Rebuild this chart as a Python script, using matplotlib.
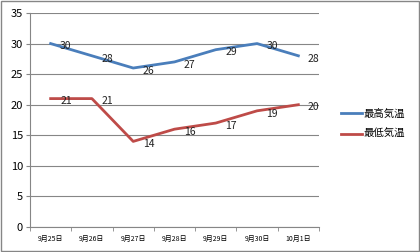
import matplotlib.pyplot as plt
import numpy as np

plt.rcParams['font.family'] = ['Noto Sans CJK JP', 'DejaVu Sans']

dates = ['9月25日', '9月26日', '9月27日', '9月28日', '9月29日', '9月30日', '10月1日']
high = [30, 28, 26, 27, 29, 30, 28]
low = [21, 21, 14, 16, 17, 19, 20]

fig = plt.figure(figsize=(4.2, 2.52), dpi=100)
ax = fig.add_axes([30 / 420, 1 - 227 / 252, 289 / 420, 214 / 252])

x = np.arange(len(dates))
ax.plot(x, high, color='#4A7EBB', lw=2.0, label='最高気温')
ax.plot(x, low, color='#BE4B48', lw=2.0, label='最低気温')

for series in (high, low):
    for xi, v in zip(x, series):
        ax.annotate(str(v), (xi, v), xytext=(11, -2), textcoords='offset points',
                    ha='center', va='center', fontsize=7.5, color='#222222')

ax.set_xlim(-0.5, len(dates) - 0.5)
ax.set_ylim(0, 35)
ax.set_yticks(range(0, 36, 5))
ax.tick_params(axis='y', labelsize=8, length=3, color='#868686', pad=2)
ax.set_xticks(x)
ax.set_xticklabels(dates, fontsize=5)
ax.set_xticks(np.arange(-0.5, len(dates)), minor=True)
ax.tick_params(axis='x', which='major', length=0, pad=6)
ax.tick_params(axis='x', which='minor', length=3, color='#868686')
ax.grid(axis='y', color='#868686', lw=0.8)
ax.set_axisbelow(True)
for s in ['top', 'right']:
    ax.spines[s].set_visible(False)
ax.spines['left'].set_color('#868686')
ax.spines['bottom'].set_color('#868686')

fig.legend(loc='center left', bbox_to_anchor=(332 / 420, 1 - 124 / 252), frameon=False,
           fontsize=7.5, handlelength=2.0, handletextpad=0.1, labelspacing=1.0)

fig.patches.append(plt.Rectangle((0.002, 0.004), 0.995, 0.992, transform=fig.transFigure,
                                 fill=False, edgecolor='#868686', lw=1))
fig.savefig('out.png', dpi=100)
